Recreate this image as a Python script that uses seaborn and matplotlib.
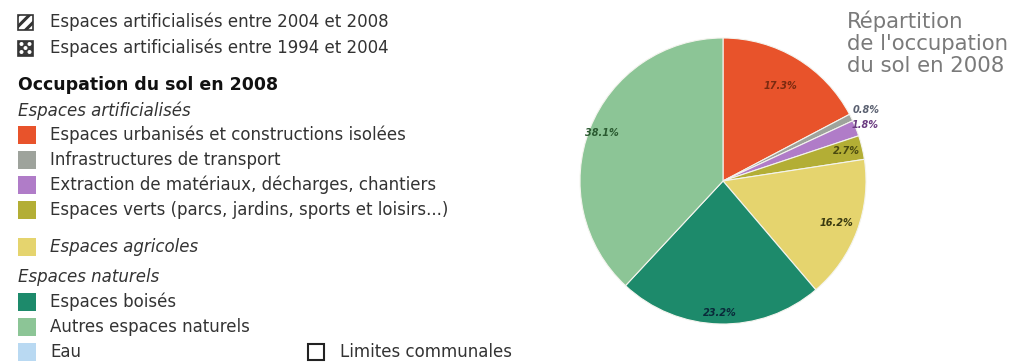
import matplotlib
matplotlib.use("Agg")
import matplotlib.pyplot as plt
from matplotlib.patches import Rectangle, Ellipse
import numpy as np
import seaborn as sns

# Land-use shares in 2008 (clockwise from the top)
categories = [
    "Espaces urbanisés et constructions isolées",
    "Infrastructures de transport",
    "Extraction de matériaux, décharges, chantiers",
    "Espaces verts (parcs, jardins, sports et loisirs...)",
    "Espaces agricoles",
    "Espaces boisés",
    "Autres espaces naturels",
]
shares = [17.3, 0.8, 1.8, 2.7, 16.2, 23.2, 38.1]
share_labels = ["17.3%", "0.8%", "1.8%", "2.7%", "16.2%", "23.2%", "38.1%"]
label_radius = [0.78, 1.12, 1.07, 0.89, 0.85, 0.92, 0.91]

slice_colors = ["#E8532B", "#9EA39C", "#B07CC8", "#B3AE35", "#E5D46E", "#1D8A6B", "#8CC596"]
label_colors = ["#7A2A10", "#5A6070", "#6A3A80", "#4A4A10", "#3A3A10", "#0A2A3A", "#2A5A30"]
water_color = "#B9D9F2"

title_lines = ["Répartition", "de l'occupation", "du sol en 2008"]

sns.set_theme(style="white")
plt.rcParams["font.family"] = ["DejaVu Sans"]
plt.rcParams["hatch.linewidth"] = 2.2

W, H = 1027, 363
fig = plt.figure(figsize=(W / 100, H / 100), dpi=100)
fig.patch.set_facecolor("white")


def fx(px):
    return px / W


def fy(py):
    return 1 - py / H


# ---- Pie of land use ----
cx, cy, r = 723, 181, 143
ax = fig.add_axes([fx(cx - r), fy(cy + r), 2 * r / W, 2 * r / H])
wedges, _ = ax.pie(shares, colors=sns.color_palette(slice_colors), startangle=90,
                   counterclock=False, radius=1,
                   wedgeprops=dict(linewidth=0.8, edgecolor="#f4f4ee"))
for w, lab, rad, col in zip(wedges, share_labels, label_radius, label_colors):
    mid = np.deg2rad((w.theta1 + w.theta2) / 2)
    ax.text(rad * np.cos(mid), rad * np.sin(mid), lab, ha="center", va="center",
            fontsize=7, style="italic", fontweight="semibold", color=col)
ax.set_xlim(-1, 1)
ax.set_ylim(-1, 1)
ax.set_aspect("equal")
ax.axis("off")

fig.text(fx(847), fy(10), "\n".join(title_lines), ha="left", va="top",
         fontsize=15.3, color="#7A7A7A", linespacing=1.13)

# ---- Legend ----
txt_col = "#333333"
fs = 12
text_x = fx(50)

# stripes: artificialised 2004-2008
y = 22
fig.patches.append(Rectangle((fx(18), fy(y + 7.5)), 15 / W, 15 / H, transform=fig.transFigure,
                             facecolor="white", edgecolor="#333333", hatch="///", linewidth=0))
fig.patches.append(Rectangle((fx(18), fy(y + 7.5)), 15 / W, 15 / H, transform=fig.transFigure,
                             facecolor="none", edgecolor="#333333", linewidth=1.2))
fig.text(text_x, fy(y), "Espaces artificialisés entre 2004 et 2008", ha="left", va="center",
         fontsize=fs, color=txt_col)

# dotted pattern: artificialised 1994-2004
y = 48
fig.patches.append(Rectangle((fx(18), fy(y + 7.5)), 15 / W, 15 / H, transform=fig.transFigure,
                             facecolor="#3A3A3A", edgecolor="#333333", linewidth=1.2))
for dx, dy in [(-4, -4), (4, -4), (0, 0), (-4, 4), (4, 4)]:
    fig.patches.append(Ellipse((fx(25.5 + dx), fy(y + dy)), 4 / W, 4 / H,
                               transform=fig.transFigure, facecolor="white", edgecolor="none"))
fig.text(text_x, fy(y), "Espaces artificialisés entre 1994 et 2004", ha="left", va="center",
         fontsize=fs, color=txt_col)

fig.text(fx(18), fy(85), "Occupation du sol en 2008", ha="left", va="center",
         fontsize=12.5, fontweight="bold", color="#111111")
fig.text(fx(18), fy(111), "Espaces artificialisés", ha="left", va="center",
         fontsize=fs, style="italic", color=txt_col)
fig.text(fx(18), fy(277), "Espaces naturels", ha="left", va="center",
         fontsize=fs, style="italic", color=txt_col)

legend_y = [135, 160, 185, 210, 247, 302, 327]
for name, col, y in zip(categories, slice_colors, legend_y):
    fig.patches.append(Rectangle((fx(18), fy(y + 9)), 18 / W, 18 / H, transform=fig.transFigure,
                                 facecolor=col, edgecolor="none"))
    fig.text(text_x, fy(y), name, ha="left", va="center", fontsize=fs, color=txt_col,
             style="italic" if name == "Espaces agricoles" else "normal")

fig.patches.append(Rectangle((fx(18), fy(352 + 9)), 18 / W, 18 / H, transform=fig.transFigure,
                             facecolor=water_color, edgecolor="none"))
fig.text(text_x, fy(352), "Eau", ha="left", va="center", fontsize=fs, color=txt_col)

fig.patches.append(Rectangle((fx(308), fy(352 + 8)), 16 / W, 16 / H, transform=fig.transFigure,
                             facecolor="white", edgecolor="#222222", linewidth=1.5))
fig.text(fx(340), fy(352), "Limites communales", ha="left", va="center",
         fontsize=fs, color=txt_col)

fig.savefig("out.png", dpi=100, facecolor="white")
